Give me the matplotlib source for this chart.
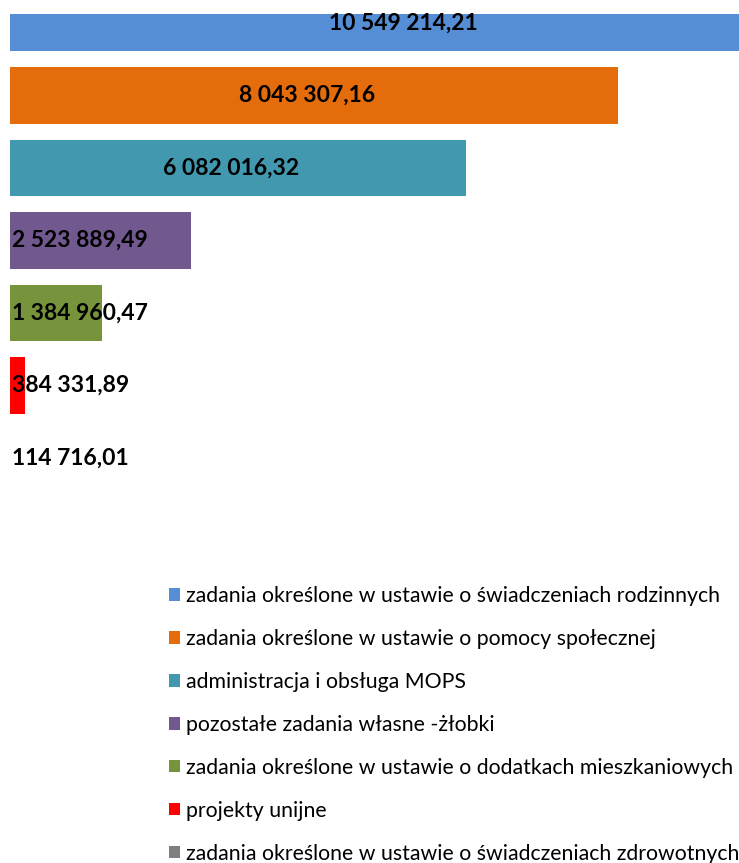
import matplotlib
matplotlib.use('Agg')
import matplotlib.pyplot as plt
import numpy as np

# wydatki wg zadan
kategorie = ['zadania określone w ustawie o świadczeniach rodzinnych',
             'zadania określone w ustawie o pomocy społecznej',
             'administracja i obsługa MOPS',
             'pozostałe zadania własne -żłobki',
             'zadania określone w ustawie o dodatkach mieszkaniowych',
             'projekty unijne',
             'zadania określone w ustawie o świadczeniach zdrowotnych']
kwoty = [10549214.21, 8043307.16, 6082016.32, 2523889.49,
         1384960.47, 384331.89, 114716.01]
etykiety = ['10 549 214,21', '8 043 307,16', '6 082 016,32', '2 523 889,49',
            '1 384 960,47', '384 331,89', '114 716,01']
kolory = ['#558ED5', '#E46C0A', '#4198AF', '#71588F',
          '#77933C', '#FF0000', '#7F7F7F']

plt.rcParams['font.family'] = ['Lato', 'DejaVu Sans']

W, H = 739, 863
fig = plt.figure(figsize=(W / 100, H / 100), dpi=100)
# os w pikselach: lewo 10, gora 14, dol ~494
ax = fig.add_axes([10 / W, 1 - 494 / H, 1 - 10 / W, (494 - 14) / H])

y = np.arange(len(kwoty))
bars = ax.barh(y, kwoty, height=0.78, color=kolory)
ax.set_xlim(195000, 9600000)
ax.set_ylim(6.5, -0.124)
ax.axis('off')

for i, (v, t) in enumerate(zip(kwoty, etykiety)):
    if v < 3e6:
        ax.text(215000, i, t, ha='left', va='center',
                fontsize=16.5, fontweight='bold', color='black')
    else:
        ax.text(v / 2, i, t, ha='center', va='center',
                fontsize=16.5, fontweight='bold', color='black')

leg = fig.legend(bars, kategorie, loc='upper left',
                 bbox_to_anchor=(169 / W, 1 - 586 / H),
                 frameon=False, fontsize=15.3, handlelength=0.52,
                 handleheight=0.52, handletextpad=0.3, labelspacing=1.08,
                 borderaxespad=0, borderpad=0)

plt.savefig('out.png', dpi=100)
